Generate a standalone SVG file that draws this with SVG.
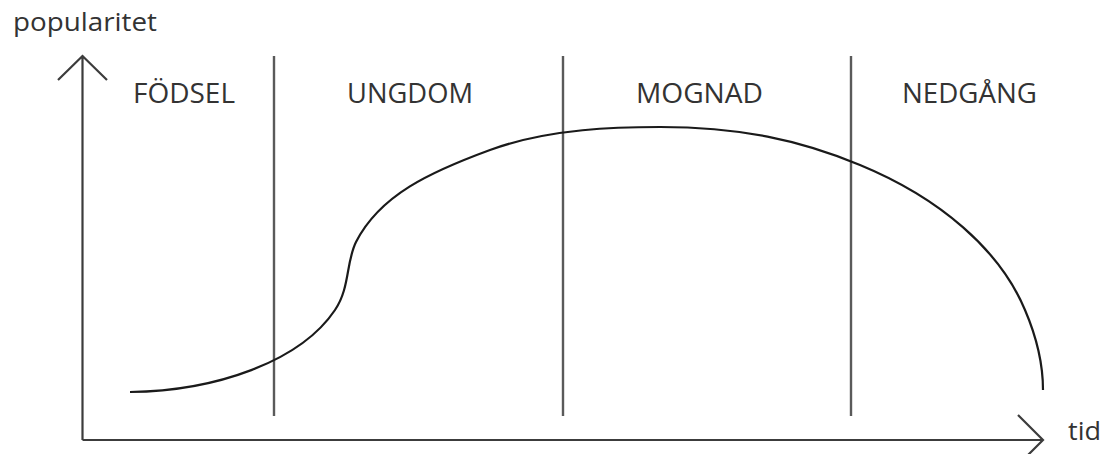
<svg xmlns="http://www.w3.org/2000/svg" width="1109" height="454" viewBox="0 0 1109 454">
<style>
.axis{fill:none;stroke:#3c3c3c;stroke-width:2.2;stroke-linecap:butt;stroke-linejoin:miter}
.div{stroke:#5a5a5a;stroke-width:2.4}
.curve{fill:none;stroke:#1a1a1a;stroke-width:2.2}
.lbl{font-family:"Open Sans","Liberation Sans",sans-serif;fill:#333;font-size:28px}
.ax{font-family:"Open Sans","Liberation Sans",sans-serif;fill:#333;font-size:26px}
</style>
<rect width="1109" height="454" fill="#fff"/>
<g id="connectors">
<path class="axis" d="M82.5,440 V56 M58,80 L82.5,56 L107,80"/>
<path class="axis" d="M82.5,440 H1043 M1018,415 L1043,440 L1018,465"/>
<line class="div" x1="274" y1="56" x2="274" y2="416"/>
<line class="div" x1="563" y1="56" x2="563" y2="416"/>
<line class="div" x1="851" y1="56" x2="851" y2="416"/>
<path class="curve" d="M130,392 C215,391 300,362 335,310 C350,288 346,262 356,242 C380,195 430,172 490,150 C550,128 620,127 660,127 C740,127 800,140 860,165 C940,198 1000,250 1025,310 C1040,345 1043,370 1043,390"/>
</g>
<g id="axis-y-label"><text class="ax" x="13" y="31" textLength="144" lengthAdjust="spacingAndGlyphs">popularitet</text></g>
<g id="axis-x-label"><text class="ax" x="1068" y="440" textLength="33" lengthAdjust="spacingAndGlyphs">tid</text></g>
<g id="fodsel"><text class="lbl" x="133" y="103" textLength="102" lengthAdjust="spacingAndGlyphs">FÖDSEL</text></g>
<g id="ungdom"><text class="lbl" x="347" y="103" textLength="126" lengthAdjust="spacingAndGlyphs">UNGDOM</text></g>
<g id="mognad"><text class="lbl" x="636" y="103" textLength="127" lengthAdjust="spacingAndGlyphs">MOGNAD</text></g>
<g id="nedgang"><text class="lbl" x="902" y="103" textLength="135" lengthAdjust="spacingAndGlyphs">NEDGÅNG</text></g>
</svg>
